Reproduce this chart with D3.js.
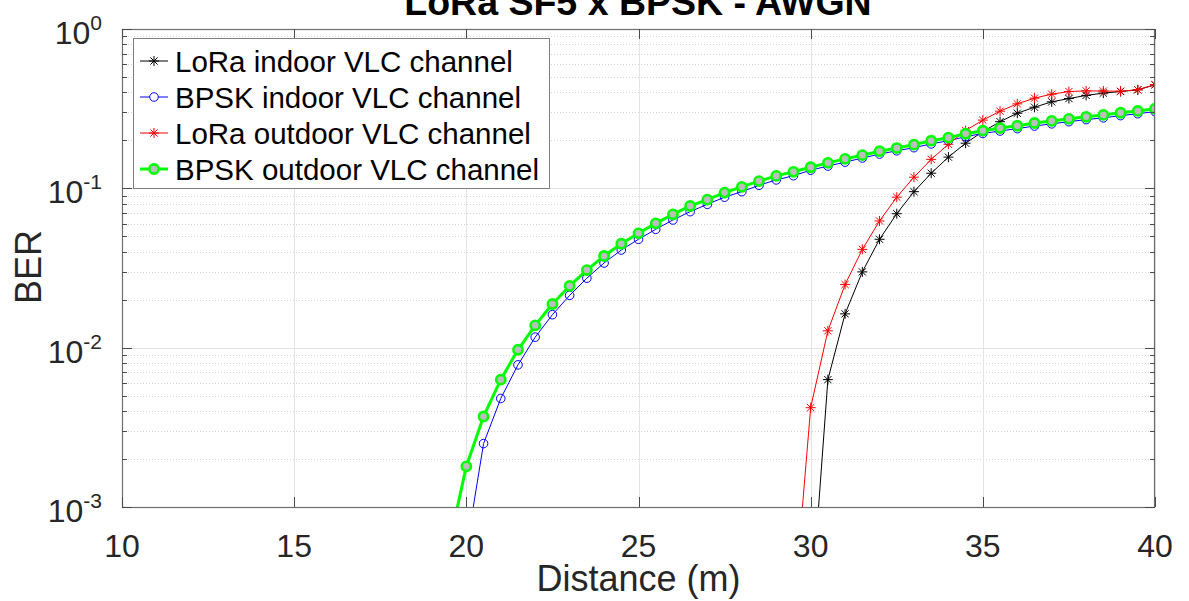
<!DOCTYPE html>
<html>
<head>
<meta charset="utf-8">
<script src="https://cdn.jsdelivr.net/npm/d3@7"></script>
<style>
  html, body { margin: 0; padding: 0; background: #fff; }
  svg { display: block; font-family: "Liberation Sans", Arial, Helvetica, sans-serif; }
</style>
</head>
<body>
<svg id="chart" width="1189" height="601"></svg>
<script>
// Distance axis samples (m)
const distance = [19.5, 20, 20.5, 21, 21.5, 22, 22.5, 23, 23.5, 24, 24.5, 25, 25.5, 26, 26.5, 27, 27.5, 28, 28.5, 29,
                  29.5, 30, 30.5, 31, 31.5, 32, 32.5, 33, 33.5, 34, 34.5, 35, 35.5, 36, 36.5, 37, 37.5, 38, 38.5, 39, 39.5, 40];

// BER per series (null = no error measured at that distance)
const loraIndoor = [null, null, null, null, null, null, null, null, null, null, null, null, null, null, null, null, null, null, null, null,
                    null, 2.1e-4, 6.3e-3, 0.0163, 0.0299, 0.0479, 0.0693, 0.0953, 0.1244, 0.157, 0.192, 0.227, 0.262, 0.296, 0.323, 0.349, 0.366, 0.383, 0.396, 0.405, 0.415, 0.446];
const bpskIndoor = [null, 5.4e-4, 2.5e-3, 4.8e-3, 7.8e-3, 0.01164, 0.0161, 0.0213, 0.0273, 0.034, 0.041, 0.0479, 0.0553, 0.0633, 0.0714, 0.0794, 0.088, 0.0953, 0.1045, 0.113,
                    0.120, 0.130, 0.138, 0.146, 0.155, 0.164, 0.172, 0.180, 0.190, 0.199, 0.211, 0.221, 0.229, 0.237, 0.246, 0.254, 0.262, 0.270, 0.277, 0.286, 0.294, 0.303];
const loraOutdoor = [null, null, null, null, null, null, null, null, null, null, null, null, null, null, null, null, null, null, null, null,
                     2.1e-4, 4.2e-3, 0.01276, 0.0249, 0.0414, 0.0624, 0.088, 0.1175, 0.152, 0.189, 0.2306, 0.268, 0.305, 0.339, 0.368, 0.39, 0.405, 0.409, 0.408, 0.407, 0.416, 0.448];
const bpskOutdoor = [5.8e-4, 1.8e-3, 3.7e-3, 6.3e-3, 9.7e-3, 0.0138, 0.0188, 0.0244, 0.0307, 0.0376, 0.0449, 0.0522, 0.0603, 0.0687, 0.0775, 0.0849, 0.094, 0.1022, 0.111, 0.1197,
                     0.127, 0.1356, 0.1445, 0.153, 0.1615, 0.171, 0.179, 0.188, 0.199, 0.208, 0.22, 0.23, 0.239, 0.247, 0.257, 0.265, 0.273, 0.281, 0.289, 0.298, 0.306, 0.316];

const seriesNames = ["LoRa indoor VLC channel", "BPSK indoor VLC channel", "LoRa outdoor VLC channel", "BPSK outdoor VLC channel"];
const xTicks = [10, 15, 20, 25, 30, 35, 40];
const yTickExponents = [-3, -2, -1, 0];

const chartTitle = "LoRa SF5 x BPSK - AWGN";
const xLabel = "Distance (m)";
const yLabel = "BER";

// Plot geometry
const plot = { left: 122, right: 1155, top: 29, bottom: 507 };
const textColor = "#262626";
const axisColor = "#6e6e6e";

const svg = d3.select("#chart");

const x = d3.scaleLinear().domain([10, 40]).range([plot.left, plot.right]);
const y = d3.scaleLog().domain([1e-3, 1]).range([plot.bottom, plot.top]);

// Grid: minor (dotted) for log decades, then major (solid)
const minorVals = [];
yTickExponents.slice(0, -1).forEach(e => {
  for (let m = 2; m <= 9; m++) minorVals.push(m * Math.pow(10, e));
});

const grid = svg.append("g");
grid.selectAll("line.minor").data(minorVals).join("line")
  .attr("x1", plot.left).attr("x2", plot.right)
  .attr("y1", d => Math.round(y(d)) + 0.5).attr("y2", d => Math.round(y(d)) + 0.5)
  .attr("stroke", "#d4d4d4").attr("stroke-width", 1).attr("stroke-dasharray", "1,2");
grid.selectAll("line.hmaj").data(yTickExponents.map(e => Math.pow(10, e))).join("line")
  .attr("x1", plot.left).attr("x2", plot.right)
  .attr("y1", d => Math.round(y(d)) + 0.5).attr("y2", d => Math.round(y(d)) + 0.5)
  .attr("stroke", "#e3e3e3").attr("stroke-width", 1);
grid.selectAll("line.vmaj").data(xTicks).join("line")
  .attr("x1", d => Math.round(x(d)) + 0.5).attr("x2", d => Math.round(x(d)) + 0.5)
  .attr("y1", plot.top).attr("y2", plot.bottom)
  .attr("stroke", "#e3e3e3").attr("stroke-width", 1);

// Clip the data to the axes box
svg.append("defs").append("clipPath").attr("id", "plotClip")
  .append("rect")
  .attr("x", plot.left).attr("y", plot.top)
  .attr("width", plot.right - plot.left).attr("height", plot.bottom - plot.top);

const starPath = r => {
  const d = r * 0.72;
  return `M${-r},0L${r},0M0,${-r}L0,${r}M${-d},${-d}L${d},${d}M${-d},${d}L${d},${-d}`;
};

const styles = [
  { values: loraIndoor, color: "#000000", width: 1, marker: "star", size: 5 },
  { values: bpskIndoor, color: "#0000ff", width: 1, marker: "circle", size: 4.3 },
  { values: loraOutdoor, color: "#ff0000", width: 1, marker: "star", size: 5 },
  { values: bpskOutdoor, color: "#00ff00", width: 3, marker: "filled", size: 4.6 }
];

const lineGen = d3.line()
  .defined(d => d.v !== null)
  .x(d => x(d.x))
  .y(d => y(d.v));

const dataLayer = svg.append("g").attr("clip-path", "url(#plotClip)");

function drawMarkers(g, s, pts) {
  if (s.marker === "star") {
    g.selectAll("path.mk").data(pts).join("path")
      .attr("transform", d => `translate(${x(d.x)},${y(d.v)})`)
      .attr("d", starPath(s.size))
      .attr("stroke", s.color).attr("stroke-width", 1).attr("fill", "none");
  } else if (s.marker === "circle") {
    g.selectAll("circle.mk").data(pts).join("circle")
      .attr("cx", d => x(d.x)).attr("cy", d => y(d.v)).attr("r", s.size)
      .attr("stroke", s.color).attr("stroke-width", 1).attr("fill", "none");
  } else {
    g.selectAll("circle.mk").data(pts).join("circle")
      .attr("cx", d => x(d.x)).attr("cy", d => y(d.v)).attr("r", s.size)
      .attr("stroke", s.color).attr("stroke-width", 2.6).attr("fill", "#bdbdbd");
  }
}

styles.forEach(s => {
  const pts = distance.map((dx, i) => ({ x: dx, v: s.values[i] }));
  const g = dataLayer.append("g");
  g.append("path").datum(pts)
    .attr("d", lineGen)
    .attr("fill", "none").attr("stroke", s.color).attr("stroke-width", s.width)
    .attr("stroke-linejoin", "round");
  drawMarkers(g, s, pts.filter(d => d.v !== null));
});

// Axes box
svg.append("rect")
  .attr("x", plot.left + 0.5).attr("y", plot.top + 0.5)
  .attr("width", plot.right - plot.left - 1).attr("height", plot.bottom - plot.top)
  .attr("fill", "none").attr("stroke", axisColor).attr("stroke-width", 1.2);

// Inward tick marks
const ticks = svg.append("g").attr("stroke", "#4a4a4a").attr("stroke-width", 1);
xTicks.forEach(v => {
  const px = Math.round(x(v)) + 0.5;
  ticks.append("line").attr("x1", px).attr("x2", px).attr("y1", plot.bottom).attr("y2", plot.bottom - 10);
  ticks.append("line").attr("x1", px).attr("x2", px).attr("y1", plot.top).attr("y2", plot.top + 10);
});
yTickExponents.forEach(e => {
  const py = Math.round(y(Math.pow(10, e))) + 0.5;
  ticks.append("line").attr("x1", plot.left).attr("x2", plot.left + 10).attr("y1", py).attr("y2", py);
  ticks.append("line").attr("x1", plot.right).attr("x2", plot.right - 10).attr("y1", py).attr("y2", py);
});
minorVals.forEach(v => {
  const py = Math.round(y(v)) + 0.5;
  ticks.append("line").attr("x1", plot.left).attr("x2", plot.left + 5).attr("y1", py).attr("y2", py);
  ticks.append("line").attr("x1", plot.right).attr("x2", plot.right - 5).attr("y1", py).attr("y2", py);
});

// X tick labels
svg.append("g").selectAll("text").data(xTicks).join("text")
  .attr("x", d => x(d)).attr("y", 557)
  .attr("text-anchor", "middle")
  .attr("font-size", 32).attr("fill", textColor)
  .text(d => d);

// Y tick labels as 10 with superscript exponent
const yLab = svg.append("g").selectAll("text").data(yTickExponents).join("text")
  .attr("x", 102).attr("y", d => y(Math.pow(10, d)) + 15)
  .attr("text-anchor", "end")
  .attr("font-size", 32).attr("fill", textColor);
yLab.append("tspan").text("10");
yLab.append("tspan").attr("font-size", 21).attr("dy", -14).text(d => d);

// Axis titles
svg.append("text")
  .attr("x", (plot.left + plot.right) / 2).attr("y", 591)
  .attr("text-anchor", "middle").attr("font-size", 36).attr("fill", textColor)
  .text(xLabel);
svg.append("text")
  .attr("transform", `translate(40.5,${(plot.top + plot.bottom) / 2 - 1}) rotate(-90)`)
  .attr("text-anchor", "middle").attr("font-size", 36).attr("fill", textColor)
  .text(yLabel);

// Title
svg.append("text")
  .attr("x", 638).attr("y", 15)
  .attr("text-anchor", "middle").attr("font-size", 37.5).attr("font-weight", "bold").attr("fill", "#000")
  .text(chartTitle);

// Legend
const legend = svg.append("g");
legend.append("rect")
  .attr("x", 133.5).attr("y", 38.5).attr("width", 416).attr("height", 150)
  .attr("fill", "#fff").attr("stroke", "#7f7f7f").attr("stroke-width", 1);
const rowY = [61, 97, 133, 169];
styles.forEach((s, i) => {
  const row = legend.append("g").attr("transform", `translate(0,${rowY[i]})`);
  row.append("line").attr("x1", 140).attr("x2", 168).attr("y1", 0).attr("y2", 0)
    .attr("stroke", s.color).attr("stroke-width", s.width);
  const mg = row.append("g");
  if (s.marker === "star") {
    mg.append("path").attr("transform", "translate(154,0)").attr("d", starPath(s.size))
      .attr("stroke", s.color).attr("stroke-width", 1).attr("fill", "none");
  } else if (s.marker === "circle") {
    mg.append("circle").attr("cx", 154).attr("cy", 0).attr("r", s.size)
      .attr("stroke", s.color).attr("stroke-width", 1).attr("fill", "#fff");
  } else {
    mg.append("circle").attr("cx", 154).attr("cy", 0).attr("r", s.size)
      .attr("stroke", s.color).attr("stroke-width", 2.6).attr("fill", "#bdbdbd");
  }
  row.append("text").attr("x", 175).attr("y", 10.5)
    .attr("font-size", 29.5).attr("fill", "#000")
    .text(seriesNames[i]);
});
</script>
</body>
</html>
